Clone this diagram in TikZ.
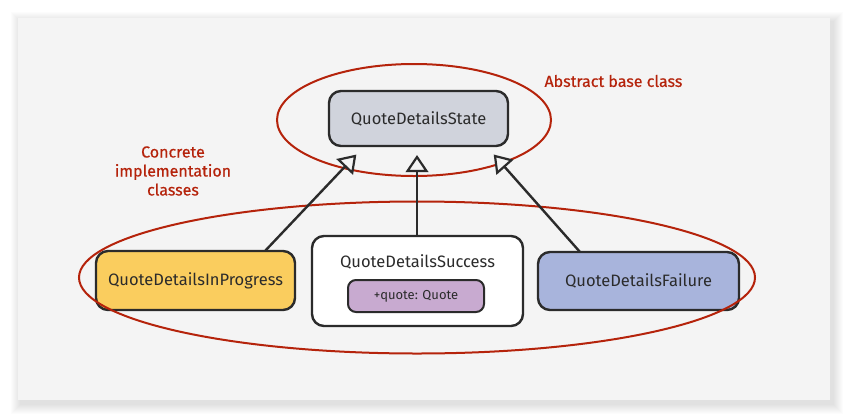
\documentclass[tikz,border=0pt]{standalone}
\usepackage{fontspec}
\setmainfont{Fira Sans}
\newfontfamily\notefont[FakeBold=0.5]{Fira Sans}
\usetikzlibrary{calc}
\definecolor{cardbg}{HTML}{F4F4F4}
\definecolor{ink}{HTML}{2B2B2B}
\definecolor{redline}{HTML}{B5230B}
\definecolor{stategray}{HTML}{D0D3DC}
\definecolor{progyellow}{HTML}{FACD5E}
\definecolor{failblue}{HTML}{A8B4DC}
\definecolor{attrpurple}{HTML}{C8AAD0}
\tikzset{
  classbox/.style={draw=ink, line width=2.4pt, rounded corners=12pt, text=ink, font=\fontsize{16.5}{19}\selectfont, align=center, inner sep=0pt},
  attrbox/.style={draw=ink, line width=2pt, rounded corners=8pt, fill=attrpurple, text=ink, font=\fontsize{13}{15}\selectfont, inner sep=0pt},
  inheritline/.style={draw=ink, line width=2.4pt},
  inherithead/.style={draw=ink, fill=cardbg, line width=2.2pt, line join=miter},
  groupring/.style={draw=redline, line width=2pt},
  note/.style={text=redline, font=\notefont\fontsize{16}{19}\selectfont, align=center}
}
\newcommand{\inheritarrow}[2]{%
  \coordinate (hb) at ($(#2)!14pt!(#1)$);
  \draw[inheritline] (#1) -- (hb);
  \draw[inherithead] (#2) -- ($(hb)!9.5pt!90:(#2)$) -- ($(hb)!9.5pt!-90:(#2)$) -- cycle;
}
\begin{document}
\begin{tikzpicture}[x=1pt,y=-1pt]
\useasboundingbox (0,0) rectangle (848,418);
\fill[white] (0,0) rectangle (848,418);
% card shadow
\foreach \i in {1,...,10} {
  \fill[black, opacity=0.012] ({18-\i+3},{18-\i+4}) rectangle ({830+\i+3},{400+\i+4});
}
\fill[cardbg] (18,18) rectangle (830,400);

% nodes
\node[classbox, fill=stategray, minimum width=179pt, minimum height=55pt] (state) at (418.5,118.5) {QuoteDetailsState};
\node[classbox, fill=progyellow, minimum width=199pt, minimum height=59pt] (prog) at (195.5,280.5) {QuoteDetailsInProgress};
\node[classbox, fill=white, minimum width=211pt, minimum height=90pt] (succ) at (417.5,281) {};
\node[text=ink, font=\fontsize{16.5}{19}\selectfont] (succtitle) at (417.5,262) {QuoteDetailsSuccess};
\node[attrbox, minimum width=136pt, minimum height=32pt] (attr) at (416,296) {+quote: Quote};
\node[classbox, fill=failblue, minimum width=201pt, minimum height=58pt] (fail) at (638.5,281) {QuoteDetailsFailure};

% ellipses
\draw[groupring] (414,120) ellipse [x radius=137, y radius=56];
\draw[groupring] (417,277.5) ellipse [x radius=338, y radius=76];

% connectors
\coordinate (tipA) at (355,156);
\coordinate (tipB) at (417,157);
\coordinate (tipC) at (495,156);
\coordinate (srcA) at (265,251);
\coordinate (srcB) at (417,236);
\coordinate (srcC) at (580,252);
\inheritarrow{srcA}{tipA}
\inheritarrow{srcB}{tipB}
\inheritarrow{srcC}{tipC}

% labels
\node[note, anchor=west] (abs) at (541,81) {Abstract base class};
\node[note] (conc) at (173,171) {Concrete\\implementation\\classes};
\end{tikzpicture}
\end{document}
